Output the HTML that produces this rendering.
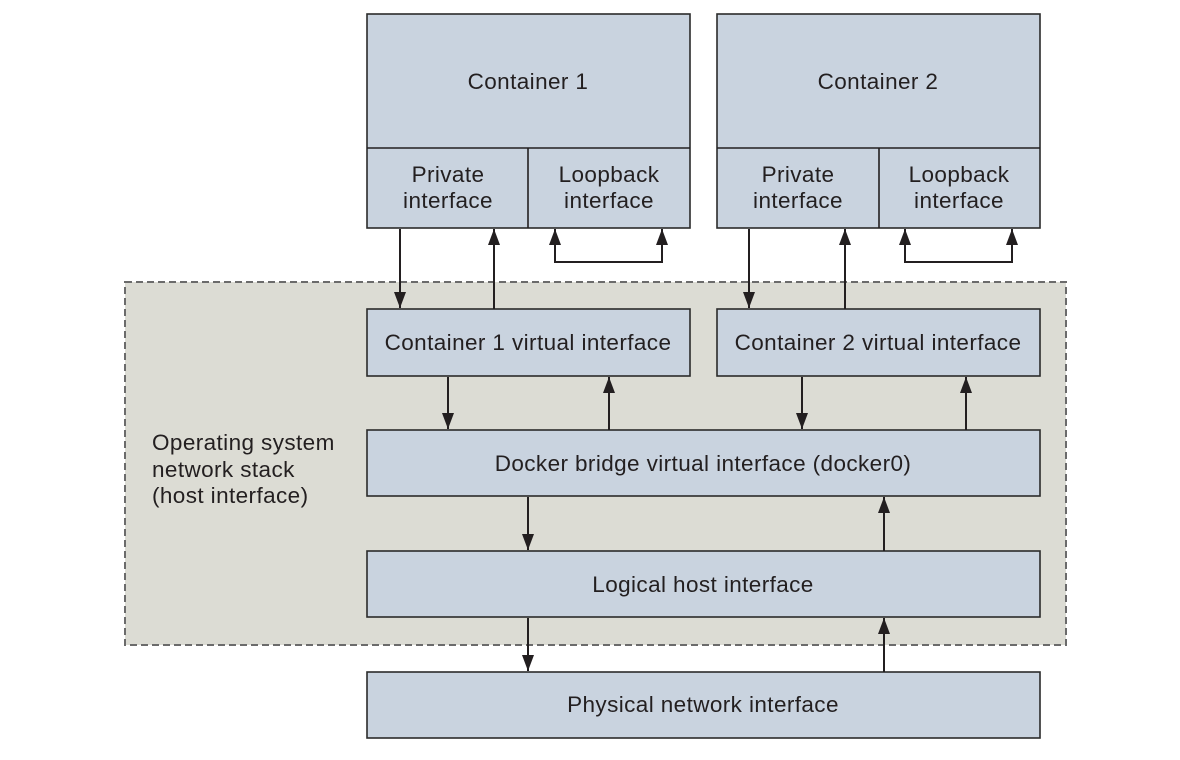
<!DOCTYPE html>
<html><head><meta charset="utf-8"><style>
body{margin:0;background:#fff;width:1180px;height:760px;overflow:hidden}
svg{display:block}
text{font-family:"Liberation Sans",sans-serif;font-size:22.5px;letter-spacing:0.4px;fill:#231f20}
.b{fill:#c9d3df;stroke:#2b2b2b;stroke-width:1.6}
.l{stroke:#231f20;stroke-width:2;fill:none}
</style></head><body>
<svg width="1180" height="760" viewBox="0 0 1180 760">
<defs>
<marker id="d" markerWidth="12" markerHeight="16" refX="6" refY="16" orient="0" markerUnits="userSpaceOnUse" viewBox="0 0 12 16"><path d="M0,0 L12,0 L6,16z" fill="#231f20"/></marker>
<marker id="u" markerWidth="12" markerHeight="16" refX="6" refY="0" orient="0" markerUnits="userSpaceOnUse" viewBox="0 0 12 16"><path d="M0,16 L12,16 L6,0z" fill="#231f20"/></marker></defs>
<rect x="125" y="282" width="941" height="363" fill="#dcdcd4" stroke="#6b6b6b" stroke-width="2" stroke-dasharray="7,4"/>
<rect class="b" x="367" y="14" width="323" height="214"/><line class="l" x1="367" y1="148" x2="690" y2="148" style="stroke-width:1.6"/><line class="l" x1="528" y1="148" x2="528" y2="228" style="stroke-width:1.6"/>
<rect class="b" x="717" y="14" width="323" height="214"/><line class="l" x1="717" y1="148" x2="1040" y2="148" style="stroke-width:1.6"/><line class="l" x1="879" y1="148" x2="879" y2="228" style="stroke-width:1.6"/>
<text x="528" y="89" text-anchor="middle">Container 1</text>
<text x="878" y="89" text-anchor="middle">Container 2</text>
<text x="448" y="182" text-anchor="middle">Private</text><text x="448" y="208" text-anchor="middle">interface</text>
<text x="609" y="182" text-anchor="middle">Loopback</text><text x="609" y="208" text-anchor="middle">interface</text>
<text x="798" y="182" text-anchor="middle">Private</text><text x="798" y="208" text-anchor="middle">interface</text>
<text x="959" y="182" text-anchor="middle">Loopback</text><text x="959" y="208" text-anchor="middle">interface</text>
<rect class="b" x="367" y="309" width="323" height="67"/><text x="528" y="350" text-anchor="middle">Container 1 virtual interface</text>
<rect class="b" x="717" y="309" width="323" height="67"/><text x="878" y="350" text-anchor="middle">Container 2 virtual interface</text>
<rect class="b" x="367" y="430" width="673" height="66"/><text x="703" y="471" text-anchor="middle">Docker bridge virtual interface (docker0)</text>
<rect class="b" x="367" y="551" width="673" height="66"/><text x="703" y="592" text-anchor="middle">Logical host interface</text>
<rect class="b" x="367" y="672" width="673" height="66"/><text x="703" y="712" text-anchor="middle">Physical network interface</text>
<text x="152" y="450">Operating system</text><text x="152" y="477">network stack</text><text x="152" y="503">(host interface)</text>
<g class="l">
<line x1="400" y1="229" x2="400" y2="308" marker-end="url(#d)"/>
<line x1="494" y1="309" x2="494" y2="229" marker-end="url(#u)"/>
<path d="M555,229 V262 H662 V229" marker-start="url(#u)" marker-end="url(#u)"/>
<line x1="749" y1="229" x2="749" y2="308" marker-end="url(#d)"/>
<line x1="845" y1="309" x2="845" y2="229" marker-end="url(#u)"/>
<path d="M905,229 V262 H1012 V229" marker-start="url(#u)" marker-end="url(#u)"/>
<line x1="448" y1="377" x2="448" y2="429" marker-end="url(#d)"/>
<line x1="609" y1="430" x2="609" y2="377" marker-end="url(#u)"/>
<line x1="802" y1="377" x2="802" y2="429" marker-end="url(#d)"/>
<line x1="966" y1="430" x2="966" y2="377" marker-end="url(#u)"/>
<line x1="528" y1="497" x2="528" y2="550" marker-end="url(#d)"/>
<line x1="884" y1="551" x2="884" y2="497" marker-end="url(#u)"/>
<line x1="528" y1="618" x2="528" y2="671" marker-end="url(#d)"/>
<line x1="884" y1="672" x2="884" y2="618" marker-end="url(#u)"/>
</g>
</svg>
</body></html>
